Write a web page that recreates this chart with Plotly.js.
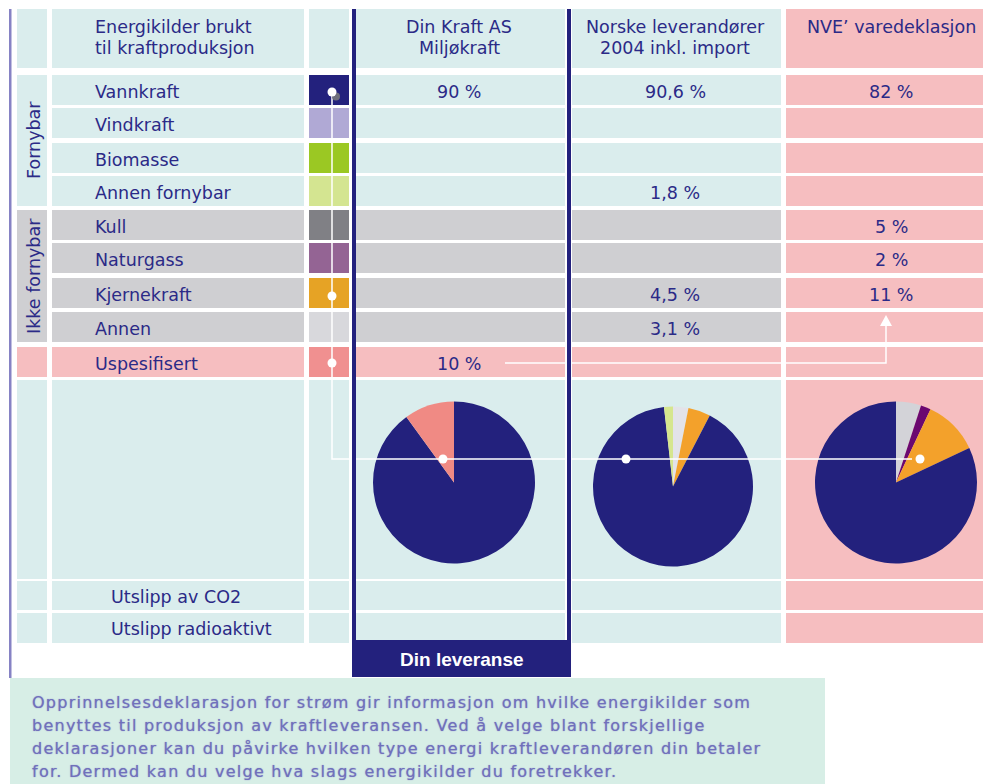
<!DOCTYPE html>
<html>
<head>
<meta charset="utf-8">
<script src="https://cdn.plot.ly/plotly-3.0.1.min.js"></script>
<style>html,body{margin:0;padding:0;background:#fff;}#chart{width:983px;height:784px;}</style>
</head>
<body>
<div id="chart"></div>
<script>
// ---------------- DATA ----------------
const categories = ['Vannkraft','Vindkraft','Biomasse','Annen fornybar','Kull','Naturgass','Kjernekraft','Annen','Uspesifisert'];
const categoryGroup = ['fornybar','fornybar','fornybar','fornybar','ikke','ikke','ikke','ikke','uspes'];
const groupLabels = ['Fornybar','Ikke fornybar'];
const swatchColors = ['#23217d','#b0a9d5','#9bc823','#d4e591','#808085','#946494','#e6a325','#d8d8dc','#f09090'];
const pieColors    = ['#23217d','#b0a9d5','#9bc823','#d6e68e','#d3d3d8','#6b0870','#f3a12b','#e3e3e9','#f08a84'];

const headerLeft = ['Energikilder brukt','til kraftproduksjon'];
const columnTitles = [['Din Kraft AS','Miljøkraft'],['Norske leverandører','2004 inkl. import'],['NVE’ varedeklasjon']];

const dinKraftValues = [90, null, null, null, null, null, null, null, 10];
const norskeValues   = [90.6, null, null, 1.8, null, null, 4.5, 3.1, null];
const nveValues      = [82, null, null, null, 5, 2, 11, null, null];

// slice order (clockwise from 12 o'clock) for each pie
const pieOrderDin    = ['Vannkraft','Uspesifisert'];
const pieOrderNorske = ['Annen','Kjernekraft','Vannkraft','Annen fornybar'];
const pieOrderNve    = ['Kull','Naturgass','Kjernekraft','Vannkraft'];

const emissionLabels = ['Utslipp av CO2','Utslipp radioaktivt'];
const footerLines = [
  'Opprinnelsesdeklarasjon for strøm gir informasjon om hvilke energikilder som',
  'benyttes til produksjon av kraftleveransen. Ved å velge blant forskjellige',
  'deklarasjoner kan du påvirke hvilken type energi kraftleverandøren din betaler',
  'for. Dermed kan du velge hva slags energikilder du foretrekker.'
];
const deliveryLabel = 'Din leveranse';

// ---------------- LAYOUT GEOMETRY ----------------
const W = 983, H = 784;
const X = x => x / W, Y = y => 1 - y / H;
const TEAL = '#daeded', GRAY = '#cfcfd2', PINK = '#f6bec0', NAVY = '#23217d', TXT = '#2b2a87';
const groupFill = {fornybar: TEAL, ikke: GRAY, uspes: PINK};

const cols = {g:[17,47], lab:[52,304], sw:[309,349], c4:[356,565], c5:[572,781], c6:[786,990]};
const headerRow = [9,68];
const rowTops = [75,108,143,176,210,243,278,312,347];
const rowH = 30;
const pieRow = [380,579];
const emRows = [[581,610],[613,643]];
const valueCenters = [459, 675, 891];
const labelX = 93;

const shapes = [];
const annotations = [];
function rect(x0,y0,x1,y1,color,layer){
  shapes.push({type:'rect', xref:'paper', yref:'paper', x0:X(x0), x1:X(x1), y0:Y(y1), y1:Y(y0),
    fillcolor:color, line:{width:0}, layer:layer||'below'});
}
function circle(cx,cy,r,color){
  shapes.push({type:'circle', xref:'paper', yref:'paper', x0:X(cx-r), x1:X(cx+r), y0:Y(cy+r), y1:Y(cy-r),
    fillcolor:color, line:{width:0}, layer:'above'});
}
function pathShape(pts,opts){
  const d = pts.map((p,i)=>(i?'L':'M')+X(p[0]).toFixed(5)+','+Y(p[1]).toFixed(5)).join(' ') + (opts.close?' Z':'');
  shapes.push(Object.assign({type:'path', xref:'paper', yref:'paper', path:d, layer:'above'}, opts.shape));
}
function text(t,x,y,o){
  o = o || {};
  annotations.push({text:t, xref:'paper', yref:'paper', x:X(x), y:Y(y), showarrow:false,
    xanchor:o.xa||'center', yanchor:'middle', textangle:o.angle||0,
    font:Object.assign({family:'DejaVu Sans, Verdana, sans-serif', size:17.5, color:TXT}, o.font||{})});
}

// header row
rect(cols.g[0],headerRow[0],cols.g[1],headerRow[1],TEAL);
rect(cols.lab[0],headerRow[0],cols.lab[1],headerRow[1],TEAL);
rect(cols.sw[0],headerRow[0],cols.sw[1],headerRow[1],TEAL);
rect(cols.c4[0],headerRow[0],cols.c4[1],headerRow[1],TEAL);
rect(cols.c5[0],headerRow[0],cols.c5[1],headerRow[1],TEAL);
rect(cols.c6[0],headerRow[0],cols.c6[1],headerRow[1],PINK);

// group label cells
rect(cols.g[0], rowTops[0], cols.g[1], rowTops[3]+rowH, TEAL);
rect(cols.g[0], rowTops[4], cols.g[1], rowTops[7]+rowH, GRAY);
rect(cols.g[0], rowTops[8], cols.g[1], rowTops[8]+rowH, PINK);

// category rows
categories.forEach((c,i)=>{
  const y0 = rowTops[i], y1 = y0 + rowH, f = groupFill[categoryGroup[i]];
  rect(cols.lab[0],y0,cols.lab[1],y1,f);
  rect(cols.sw[0],y0,cols.sw[1],y1,swatchColors[i]);
  rect(cols.c4[0],y0,cols.c4[1],y1,f);
  rect(cols.c5[0],y0,cols.c5[1],y1,f);
  rect(cols.c6[0],y0,cols.c6[1],y1,PINK);
  const cy = y0 + rowH/2 + 2;
  text(c, labelX, cy, {xa:'left'});
  [dinKraftValues, norskeValues, nveValues].forEach((arr,k)=>{
    if(arr[i] !== null) text(String(arr[i]).replace('.',',') + ' %', valueCenters[k], y0 + rowH/2 + 1.5);
  });
});

// pie row + emission rows
[pieRow].concat(emRows).forEach((r,j)=>{
  rect(cols.g[0],r[0],cols.g[1],r[1],TEAL);
  rect(cols.lab[0],r[0],cols.lab[1],r[1],TEAL);
  rect(cols.sw[0],r[0],cols.sw[1],r[1],TEAL);
  rect(cols.c4[0],r[0],cols.c4[1], j===2 ? 640 : r[1],TEAL);
  rect(cols.c5[0],r[0],cols.c5[1],r[1],TEAL);
  rect(cols.c6[0],r[0],cols.c6[1],r[1],PINK);
});
emissionLabels.forEach((t,j)=>text(t, 109, (emRows[j][0]+emRows[j][1])/2 + 1, {xa:'left'}));

// group labels (vertical)
text(groupLabels[0], 34, 140, {angle:-90});
text(groupLabels[1], 34, 276, {angle:-90});

// header texts
headerLeft.forEach((t,j)=>text(t, labelX, 27 + j*21, {xa:'left'}));
columnTitles.forEach((lines,k)=>lines.forEach((t,j)=>text(t, valueCenters[k], 27 + j*21)));

// left purple rule
rect(9, 9, 11.5, 678, '#8682c4');

// footer panel
rect(10, 678, 825, 784, '#d7eee6');
footerLines.forEach((t,j)=>text('<span style="letter-spacing:1.25px">' + t + '</span>', 30, 702 + j*23, {xa:'left',
  font:{size:16, color:'#7070bb', shadow:'0 0 1.2px #8686c8'}}));

// white connectors
const swX = 332;
pathShape([[swX,92],[swX,459],[912,459]], {shape:{line:{color:'#ffffff', width:1.5}}});
pathShape([[505,363],[886,363],[886,325]], {shape:{line:{color:'#ffffff', width:1.5}}});
pathShape([[880,326],[892,326],[886,315]], {close:true, shape:{fillcolor:'#ffffff', line:{width:0}}});
circle(336, 96.5, 4, '#6f6f7c');
circle(swX, 92, 4.5, '#ffffff');
circle(swX, rowTops[6]+rowH/2+3, 4.5, '#ffffff');
circle(swX, rowTops[8]+rowH/2+1, 4.5, '#ffffff');
circle(443, 459, 4.5, '#ffffff');
circle(626, 459, 4.5, '#ffffff');
circle(920, 459, 4.5, '#ffffff');

// navy "Din leveranse" frame
rect(352, 9, 356, 640, NAVY, 'above');
rect(567, 9, 571, 640, NAVY, 'above');
rect(352, 640, 571, 677, NAVY, 'above');
text(deliveryLabel, 462, 659, {font:{family:'Liberation Sans, Arial, sans-serif', size:19, color:'#ffffff', weight:'bold'}});

// ---------------- PIES ----------------
function pieTrace(order, values, cx, cy, r){
  const idx = order.map(l => categories.indexOf(l));
  return {
    type:'pie', labels:order, values:idx.map(i=>values[i]),
    marker:{colors:idx.map(i=>pieColors[i]), line:{width:0}},
    sort:false, direction:'clockwise', rotation:0,
    textinfo:'none', hoverinfo:'skip', showlegend:false,
    domain:{x:[X(cx-r), X(cx+r)], y:[Y(cy+r), Y(cy-r)]}
  };
}
const data = [
  pieTrace(pieOrderDin, dinKraftValues, 454, 482.5, 81),
  pieTrace(pieOrderNorske, norskeValues, 673, 486.5, 80),
  pieTrace(pieOrderNve, nveValues, 896, 482.5, 81)
];

const layout = {
  width:W, height:H, margin:{l:0,r:0,t:0,b:0},
  paper_bgcolor:'#ffffff', plot_bgcolor:'#ffffff',
  showlegend:false, shapes:shapes, annotations:annotations
};
Plotly.newPlot('chart', data, layout, {staticPlot:true, displayModeBar:false});
</script>
</body>
</html>
